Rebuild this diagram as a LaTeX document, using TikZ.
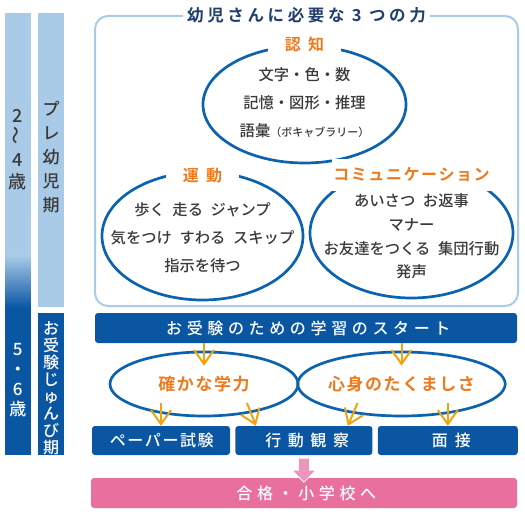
\documentclass[tikz,border=0pt]{standalone}
\usepackage{fontspec}
\setmainfont{Noto Sans CJK JP Medium}[BoldFont={Noto Sans CJK JP Bold}]
\usepackage{tikz}
\usetikzlibrary{positioning, arrows.meta, shapes.geometric}
\definecolor{darkblue}{HTML}{0A56A3}
\definecolor{ringblue}{HTML}{0B63AF}
\definecolor{paleblue}{HTML}{A9CBE7}
\definecolor{navy}{HTML}{213F6F}
\definecolor{txtgray}{HTML}{3A3A3A}
\definecolor{orangelbl}{HTML}{EE7A1E}
\definecolor{goldarrow}{HTML}{F0A30A}
\definecolor{pinkbar}{HTML}{E96F9F}
\definecolor{pinkarrow}{HTML}{EE94BE}
\newcommand{\wsp}{\hspace{0.5em}}
\tikzset{
 tag/.style={fill=white, text=orangelbl, inner xsep=17pt, inner ysep=2pt,
    font=\fontsize{16}{16}\selectfont\bfseries\addfontfeature{LetterSpace=#1}},
 tag/.default=0,
 wide/.style={font=\fontsize{16}{16}\selectfont\addfontfeature{LetterSpace=#1},
    execute at begin node={\hspace{0.#1em}}}
}

\begin{document}
\begin{tikzpicture}[x=1pt, y=-1pt]
\tikzstyle{ring}=[ellipse, draw=ringblue, line width=2.7pt, inner sep=0pt]
\tikzstyle{lines}=[align=center, text=txtgray, font=\fontsize{15.3}{28}\selectfont]
\tikzstyle{bar}=[rectangle, fill=darkblue, rounded corners=3pt, text=white, minimum height=29pt, inner sep=0pt]
\tikzstyle{connect}=[-{Straight Barb[length=14pt, width=20pt]}, line width=2pt, draw=goldarrow]
\tikzstyle{upright}=[align=center, inner sep=0pt, font=\fontsize{18}{22}\selectfont]
\useasboundingbox (0,0) rectangle (525,516);
% 1. Age bars
%%%%%%%%%%
\fill[paleblue] (5,13) rectangle (30.5,256);
\shade[top color=paleblue, bottom color=darkblue] (5,255.5) rectangle (30.5,308);
\fill[darkblue] (5,307.5) rectangle (30.5,455);
\fill[paleblue] (38,13) rectangle (64,307);
\fill[darkblue] (38,313) rectangle (64,455);
\node[upright, text=txtgray] (young) at (17.8,150) {2\\\rotatebox{90}{〜}\\4\\歳};
\node[upright, text=txtgray, font=\fontsize{17}{24}\selectfont] (pre) at (51,157.5) {プ\\レ\\幼\\児\\期};
\node[upright, text=white, font=\fontsize{17}{20}\selectfont] (older) at (17.8,380) {5\\・\\6\\歳};
\node[upright, text=white, font=\fontsize{16}{17}\selectfont] (prep) at (51,388) {お\\受\\験\\じ\\ゅ\\ん\\び\\期};
% 2. Nodes
%%%%%%%%%%
\node[draw=paleblue, line width=2pt, rounded corners=13pt, minimum width=423pt, minimum height=290pt] (frame) at (306.5,161) {};
\node[fill=white, text=navy, inner xsep=4pt, font=\fontsize{16.5}{16.5}\selectfont\bfseries\addfontfeature{LetterSpace=22}] (title) at (frame.north) {幼児さんに必要な 3 つの力};

\node[ring, minimum width=203pt, minimum height=117pt] (cog) at (304.5,104.5) {};
\node[ring, minimum width=201pt, minimum height=128pt] (mot) at (202.5,236) {};
\node[ring, minimum width=203pt, minimum height=130pt] (comm) at (411.5,233) {};
\node[tag] (coglbl) at (cog.north) {認\hspace{0.45em}知};
\node[tag] (motlbl) at ([yshift=-5pt]mot.north) {運\hspace{0.45em}動};
\node[tag=10, inner xsep=1pt, inner ysep=9pt] (commlbl) at ([yshift=-8pt]comm.north) {コミュニケーション};
\node[lines] (cogtxt) at ([yshift=2pt]cog.center) {文字・色・数\\記憶・図形・推理\\語彙{\fontsize{11}{28}\selectfont（ボキャブラリー）}};
\node[lines] (mottxt) at ([yshift=-2pt]mot.center) {歩く\wsp 走る\wsp ジャンプ\\気をつけ\wsp すわる\wsp スキップ\\指示を待つ};
\node[lines, font=\fontsize{15.3}{23.7}\selectfont] (commtxt) at ([yshift=-3.5pt]comm.center) {あいさつ\wsp お返事\\マナー\\お友達をつくる\wsp 集団行動\\発声};

\node[bar, minimum width=422pt, minimum height=30pt, wide=29] (start) at (306,328) {お受験のための学習のスタート};
\node[ring, minimum width=188pt, minimum height=64pt, text=orangelbl, font=\fontsize{17}{17}\selectfont\bfseries\addfontfeature{LetterSpace=9}] (learn) at (204,384) {確かな学力};
\node[ring, minimum width=189pt, minimum height=64pt, text=orangelbl, font=\fontsize{17}{17}\selectfont\bfseries\addfontfeature{LetterSpace=9}] (tough) at (401.5,384) {心身のたくましさ};
\node[bar, minimum width=138pt, wide=10] (paper) at (161,440.5) {ペーパー試験};
\node[bar, minimum width=137pt, wide=41, right=5pt of paper] (action) {行動観察};
\node[bar, minimum width=140pt, wide=44, right=5pt of action] (interview) {面接};
\node[bar, fill=pinkbar, minimum width=426pt, minimum height=30pt, wide=29] (pass) at (304,493) {合格・小学校へ};
% 3. Arrows
%%%%%%%%%%%
\draw[connect] (start.south -| learn.north) -- ([yshift=-15pt]learn.north);
\draw[connect] (start.south -| tough.north) -- ([yshift=-15pt]tough.north);
\draw[connect] ([yshift=23pt]paper.north) -- (paper.north);
\draw[connect] ([shift={(43,19)}]learn.center) -- ([xshift=-48pt]action.north);
\draw[connect] ([shift={(-44,19)}]tough.center) -- ([xshift=44pt]action.north);
\draw[connect] ([yshift=23pt]interview.north) -- (interview.north);
\coordinate (pinktop) at ([yshift=-3pt]action.south);
\filldraw[fill=pinkarrow, draw=white, line width=0.8pt] (pinktop) ++(-5.5,0) -- ++(0,12) -- ++(-6.5,0) -- ++(12,12) -- ++(12,-12) -- ++(-6.5,0) -- ++(0,-12) -- cycle;
\end{tikzpicture}
\end{document}
